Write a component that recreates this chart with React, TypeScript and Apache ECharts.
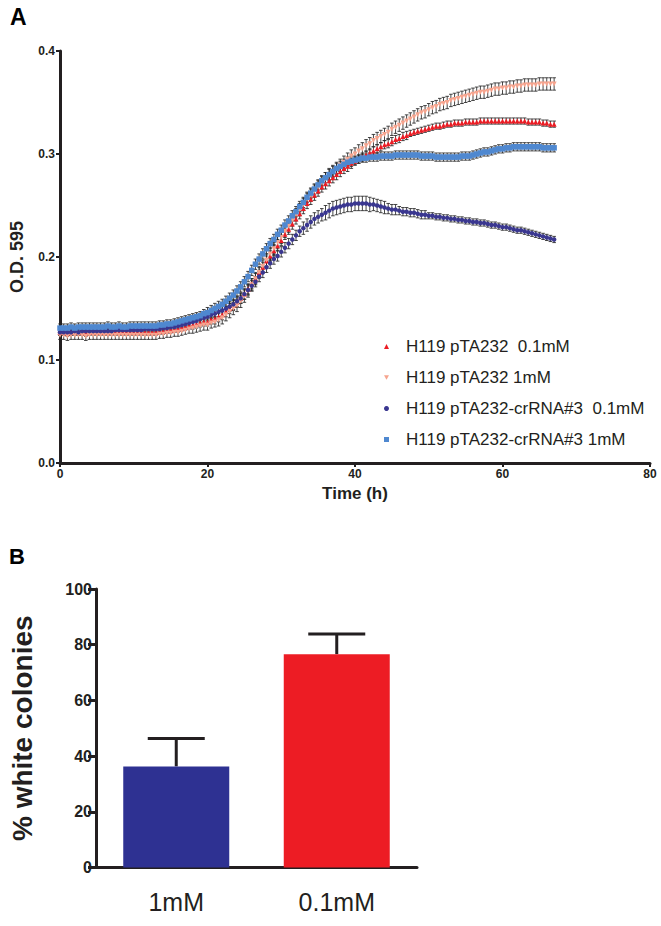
import React, { useEffect, useRef } from "react";
import * as echarts from "echarts";

// Panel A: growth curves, sampled every 0.5 h from 0 to 67 h
const TIME_H: number[] = Array.from({ length: 135 }, (_, i) => i * 0.5);

const SERIES_NAMES = [
  "H119 pTA232  0.1mM",
  "H119 pTA232 1mM",
  "H119 pTA232-crRNA#3  0.1mM",
  "H119 pTA232-crRNA#3 1mM",
];

// H119 pTA232 0.1mM
const OD_PTA_01 = [
  .127,.127,.126,.127,.127,.127,.127,.126,.127,.127,
  .127,.127,.127,.127,.127,.127,.127,.127,.127,.127,
  .127,.127,.127,.127,.127,.127,.127,.128,.128,.129,
  .129,.130,.130,.131,.132,.133,.134,.135,.136,.137,
  .137,.139,.140,.142,.144,.147,.150,.153,.156,.160,
  .164,.169,.174,.179,.185,.190,.196,.201,.206,.211,
  .216,.222,.227,.232,.237,.242,.247,.252,.256,.260,
  .264,.268,.271,.274,.277,.280,.283,.286,.288,.291,
  .293,.295,.297,.299,.301,.303,.305,.307,.309,.310,
  .312,.314,.315,.317,.318,.320,.321,.322,.323,.324,
  .325,.326,.327,.327,.328,.329,.329,.330,.330,.330,
  .331,.331,.331,.331,.332,.332,.332,.332,.332,.332,
  .332,.332,.332,.332,.332,.332,.332,.331,.331,.331,
  .331,.330,.330,.329,.329,
];
// H119 pTA232 1mM
const OD_PTA_1 = [
  .124,.124,.123,.124,.124,.124,.124,.123,.124,.124,
  .124,.124,.124,.124,.124,.124,.124,.124,.124,.124,
  .124,.124,.124,.124,.124,.124,.124,.125,.125,.126,
  .126,.127,.127,.128,.129,.130,.131,.132,.133,.134,
  .134,.136,.137,.139,.141,.144,.147,.150,.153,.157,
  .162,.167,.173,.179,.185,.191,.197,.203,.208,.214,
  .219,.225,.230,.236,.241,.246,.251,.256,.260,.264,
  .268,.272,.276,.280,.283,.286,.289,.292,.295,.298,
  .300,.303,.305,.308,.310,.313,.315,.317,.319,.321,
  .324,.326,.328,.330,.332,.334,.336,.338,.340,.341,
  .343,.345,.346,.348,.349,.350,.352,.353,.354,.355,
  .356,.357,.358,.359,.360,.360,.361,.362,.363,.363,
  .364,.364,.365,.365,.366,.366,.367,.367,.367,.367,
  .368,.368,.368,.368,.368,
];
// H119 pTA232-crRNA#3 0.1mM
const OD_CR_01 = [
  .127,.127,.127,.127,.128,.127,.128,.128,.128,.128,
  .128,.128,.128,.128,.128,.129,.129,.129,.129,.129,
  .129,.129,.129,.130,.130,.130,.130,.130,.131,.131,
  .132,.132,.133,.134,.135,.136,.137,.138,.140,.141,
  .142,.144,.145,.147,.148,.150,.152,.154,.157,.160,
  .164,.168,.172,.176,.181,.185,.190,.194,.198,.201,
  .205,.209,.213,.217,.221,.225,.228,.231,.234,.237,
  .239,.241,.243,.245,.247,.248,.249,.250,.251,.251,
  .252,.252,.252,.252,.251,.251,.250,.249,.248,.247,
  .246,.246,.245,.244,.244,.243,.243,.242,.241,.241,
  .240,.240,.239,.239,.238,.238,.237,.237,.236,.236,
  .235,.235,.234,.234,.233,.233,.232,.231,.231,.230,
  .229,.229,.228,.227,.226,.226,.225,.224,.223,.222,
  .221,.220,.219,.218,.217,
];
// H119 pTA232-crRNA#3 1mM
const OD_CR_1 = [
  .131,.131,.131,.132,.131,.132,.132,.132,.132,.132,
  .132,.132,.132,.133,.132,.132,.133,.132,.132,.133,
  .133,.133,.133,.133,.133,.133,.133,.134,.134,.135,
  .135,.136,.137,.138,.139,.140,.141,.142,.143,.145,
  .146,.148,.150,.152,.154,.157,.160,.163,.167,.171,
  .176,.181,.187,.193,.198,.203,.208,.213,.217,.222,
  .226,.231,.235,.240,.244,.249,.253,.258,.262,.266,
  .270,.274,.277,.280,.283,.286,.288,.290,.292,.293,
  .294,.295,.296,.296,.297,.297,.297,.298,.298,.298,
  .298,.299,.299,.299,.299,.299,.299,.299,.298,.298,
  .298,.298,.297,.297,.297,.297,.297,.297,.297,.298,
  .298,.298,.299,.300,.301,.302,.302,.303,.304,.305,
  .305,.306,.306,.307,.307,.307,.307,.307,.307,.307,
  .307,.306,.306,.306,.306,
];

// standard deviations (error bars)
const SD_PTA_01 = [
  .003,.003,.003,.003,.003,.003,.003,.003,.003,.003,
  .003,.003,.003,.003,.003,.003,.003,.003,.003,.003,
  .003,.003,.003,.003,.003,.003,.003,.003,.003,.003,
  .003,.003,.003,.003,.003,.003,.004,.004,.004,.004,
  .004,.004,.005,.005,.005,.005,.005,.005,.005,.005,
  .005,.005,.005,.005,.005,.005,.005,.005,.005,.005,
  .005,.005,.005,.005,.005,.005,.005,.005,.005,.005,
  .005,.005,.005,.005,.005,.005,.005,.005,.005,.005,
  .004,.004,.004,.004,.004,.004,.004,.004,.004,.004,
  .004,.004,.004,.004,.004,.003,.003,.003,.003,.003,
  .003,.003,.003,.003,.003,.003,.003,.003,.003,.003,
  .003,.003,.003,.003,.003,.003,.003,.003,.003,.003,
  .003,.003,.003,.003,.003,.003,.003,.003,.003,.003,
  .003,.003,.003,.003,.003,
];
const SD_PTA_1 = [
  .004,.004,.004,.004,.004,.004,.004,.004,.004,.004,
  .004,.004,.004,.004,.004,.004,.004,.004,.004,.004,
  .004,.004,.004,.004,.004,.004,.004,.004,.004,.004,
  .004,.004,.004,.004,.004,.004,.005,.005,.005,.005,
  .005,.005,.005,.006,.006,.006,.006,.006,.006,.006,
  .006,.006,.006,.006,.006,.006,.006,.006,.006,.006,
  .006,.006,.006,.006,.006,.006,.006,.006,.006,.006,
  .006,.006,.006,.006,.006,.006,.006,.006,.006,.006,
  .006,.006,.006,.006,.006,.006,.006,.006,.006,.006,
  .006,.006,.006,.006,.006,.006,.006,.006,.006,.006,
  .006,.006,.006,.006,.006,.006,.006,.006,.006,.006,
  .006,.006,.006,.006,.006,.006,.006,.006,.006,.006,
  .006,.006,.006,.006,.006,.006,.006,.006,.006,.006,
  .006,.006,.006,.006,.006,
];
const SD_CR_01 = [
  .003,.003,.003,.003,.003,.003,.003,.003,.003,.003,
  .003,.003,.003,.003,.003,.003,.003,.003,.003,.003,
  .003,.003,.003,.003,.003,.003,.003,.003,.003,.003,
  .003,.003,.003,.003,.003,.003,.004,.004,.004,.004,
  .004,.004,.004,.005,.005,.005,.005,.005,.005,.005,
  .005,.005,.005,.005,.005,.005,.005,.005,.005,.005,
  .005,.005,.005,.005,.005,.005,.006,.006,.006,.006,
  .006,.006,.007,.007,.007,.007,.007,.007,.007,.007,
  .007,.007,.007,.007,.007,.006,.006,.006,.006,.005,
  .005,.005,.004,.004,.004,.004,.004,.004,.004,.004,
  .003,.003,.003,.003,.003,.003,.003,.003,.003,.003,
  .003,.003,.003,.003,.003,.003,.003,.003,.003,.003,
  .003,.003,.003,.003,.003,.003,.003,.003,.003,.003,
  .003,.003,.003,.003,.003,
];
const SD_CR_1 = [
  .004,.004,.004,.004,.004,.004,.004,.004,.004,.004,
  .004,.004,.004,.004,.004,.004,.004,.004,.004,.004,
  .004,.004,.004,.004,.004,.004,.004,.004,.004,.004,
  .004,.004,.004,.004,.004,.004,.004,.004,.004,.004,
  .005,.005,.005,.005,.005,.005,.005,.005,.005,.005,
  .005,.005,.005,.005,.005,.005,.005,.005,.005,.005,
  .005,.005,.005,.005,.005,.005,.005,.005,.005,.005,
  .005,.005,.005,.005,.005,.005,.005,.005,.005,.005,
  .004,.004,.004,.004,.004,.004,.004,.004,.004,.004,
  .004,.004,.004,.004,.004,.004,.004,.004,.004,.004,
  .004,.004,.004,.004,.004,.004,.004,.004,.004,.004,
  .004,.004,.004,.004,.004,.004,.004,.004,.004,.004,
  .004,.004,.004,.004,.004,.004,.004,.004,.004,.004,
  .004,.004,.004,.004,.004,
];

const X_TICKS_A = [0, 20, 40, 60, 80];
const Y_TICKS_A = [0, 0.1, 0.2, 0.3, 0.4];

// Panel B: % white colonies
const CONC = ["1mM", "0.1mM"];
const WHITE_PCT = [36.3, 76.6];
const WHITE_ERR = [10.0, 7.2];
const Y_TICKS_B = [0, 20, 40, 60, 80, 100];

const INK = "#231f20";
const SANS = "'Liberation Sans', Arial, Helvetica, sans-serif";

export default function App() {
  const ref = useRef<HTMLDivElement>(null);

  useEffect(() => {
    document.body.style.margin = "0";
    const chart = echarts.init(ref.current!, undefined, { renderer: "svg" });

    const odSets = [OD_PTA_01, OD_PTA_1, OD_CR_01, OD_CR_1];
    const sdSets = [SD_PTA_01, SD_PTA_1, SD_CR_01, SD_CR_1];
    const colors = ["#ec1c24", "#f6a48e", "#3a3790", "#4f88d0"];
    const symbols = ["triangle", "path://M0,0L10,0L5,9Z", "circle", "rect"];
    const sizes = [5, 5, 4.5, 5.5];

    const errRender = (params: any, api: any) => {
      const x = api.value(0);
      const y = api.value(1);
      const e = api.value(2);
      const hi = api.coord([x, y + e]);
      const lo = api.coord([x, y - e]);
      const w = 1.8;
      const st = { stroke: "#262626", lineWidth: 0.85 };
      return {
        type: "group",
        children: [
          { type: "line", shape: { x1: hi[0], y1: hi[1], x2: lo[0], y2: lo[1] }, style: st },
          { type: "line", shape: { x1: hi[0] - w, y1: hi[1], x2: hi[0] + w, y2: hi[1] }, style: st },
          { type: "line", shape: { x1: lo[0] - w, y1: lo[1], x2: lo[0] + w, y2: lo[1] }, style: st },
        ],
      };
    };

    const errSeries = odSets.map((od, k) => ({
      type: "custom",
      name: "err" + k,
      xAxisIndex: 0,
      yAxisIndex: 0,
      renderItem: errRender,
      encode: { x: 0, y: 1 },
      data: TIME_H.map((t, i) => [t, od[i], sdSets[k][i]]),
      z: 2,
      silent: true,
    }));

    const markSeries = odSets.map((od, k) => ({
      type: "scatter",
      name: SERIES_NAMES[k],
      xAxisIndex: 0,
      yAxisIndex: 0,
      symbol: symbols[k],
      symbolSize: sizes[k],
      itemStyle: { color: colors[k], opacity: 1 },
      data: TIME_H.map((t, i) => [t, od[i]]),
      z: 3 + k,
      silent: true,
    }));

    const barErrRender = (params: any, api: any) => {
      const c = api.value(0);
      const v = api.value(1);
      const e = api.value(2);
      const base = api.coord([c, v]);
      const top = api.coord([c, v + e]);
      const w = 28.5;
      const st = { stroke: INK, lineWidth: 3 };
      return {
        type: "group",
        children: [
          { type: "line", shape: { x1: base[0], y1: base[1], x2: top[0], y2: top[1] }, style: st },
          { type: "line", shape: { x1: top[0] - w, y1: top[1], x2: top[0] + w, y2: top[1] }, style: st },
        ],
      };
    };

    const option: any = {
      animation: false,
      backgroundColor: "#ffffff",
      textStyle: { fontFamily: SANS },
      graphic: [
        { type: "text", left: 10, top: 5, style: { text: "A", font: `bold 23px ${SANS}`, fill: "#000" } },
        { type: "text", left: 9, top: 545, style: { text: "B", font: `bold 22px ${SANS}`, fill: "#000" } },
      ],
      legend: {
        data: SERIES_NAMES,
        orient: "vertical",
        left: 379,
        top: 333,
        itemWidth: 5,
        itemHeight: 5,
        itemGap: 14,
        selectedMode: false,
        textStyle: { fontSize: 17, color: INK, fontFamily: SANS, padding: [0, 0, 0, 12] },
      },
      grid: [
        { left: 55, top: 51, width: 595, height: 412 },
        { left: 86, top: 589, width: 331, height: 278.5 },
      ],
      xAxis: [
        {
          gridIndex: 0,
          type: "value",
          min: X_TICKS_A[0],
          max: X_TICKS_A[X_TICKS_A.length - 1],
          interval: 20,
          name: "Time (h)",
          nameLocation: "middle",
          nameGap: 22,
          nameTextStyle: { fontSize: 17, fontWeight: "bold", color: INK, fontFamily: SANS },
          axisLine: { onZero: false, lineStyle: { color: INK, width: 3 } },
          axisTick: { length: 4, lineStyle: { color: INK, width: 2 } },
          axisLabel: { fontSize: 12, fontWeight: "bold", color: INK, margin: 5, fontFamily: SANS },
          splitLine: { show: false },
        },
        {
          gridIndex: 1,
          type: "category",
          data: CONC,
          axisLine: { lineStyle: { color: INK, width: 3 } },
          axisTick: { alignWithLabel: true, length: 9, lineStyle: { color: INK, width: 3 } },
          axisLabel: { fontSize: 25, color: INK, margin: 22, fontFamily: SANS },
          splitLine: { show: false },
        },
      ],
      yAxis: [
        {
          gridIndex: 0,
          type: "value",
          min: Y_TICKS_A[0],
          max: Y_TICKS_A[Y_TICKS_A.length - 1],
          interval: 0.1,
          name: "O.D. 595",
          nameLocation: "middle",
          nameGap: 34,
          nameTextStyle: { fontSize: 18, fontWeight: "bold", color: INK, fontFamily: SANS },
          axisLine: { show: true, onZero: false, lineStyle: { color: INK, width: 3 } },
          axisTick: { show: true, length: 4, lineStyle: { color: INK, width: 2 } },
          axisLabel: {
            fontSize: 12,
            fontWeight: "bold",
            color: INK,
            margin: 5,
            fontFamily: SANS,
            formatter: (v: number) => v.toFixed(1),
          },
          splitLine: { show: false },
        },
        {
          gridIndex: 1,
          type: "value",
          min: Y_TICKS_B[0],
          max: Y_TICKS_B[Y_TICKS_B.length - 1],
          interval: 20,
          name: "% white colonies",
          nameLocation: "middle",
          nameGap: 60,
          nameTextStyle: { fontSize: 28, fontWeight: "bold", color: INK, fontFamily: SANS },
          axisLine: { show: true, lineStyle: { color: INK, width: 3 } },
          axisTick: { show: true, length: 8, lineStyle: { color: INK, width: 3 } },
          axisLabel: { fontSize: 16, fontWeight: "bold", color: INK, margin: 4, fontFamily: SANS },
          splitLine: { show: false },
        },
      ],
      series: [
        ...errSeries,
        ...markSeries,
        {
          type: "bar",
          name: "white",
          xAxisIndex: 1,
          yAxisIndex: 1,
          barWidth: 106,
          data: WHITE_PCT.map((v, i) => ({
            value: v,
            itemStyle: { color: i === 0 ? "#2e3192" : "#ed1c24" },
          })),
          z: 2,
          silent: true,
        },
        {
          type: "custom",
          name: "whiteErr",
          xAxisIndex: 1,
          yAxisIndex: 1,
          renderItem: barErrRender,
          encode: { x: 0, y: 1 },
          data: WHITE_PCT.map((v, i) => [i, v, WHITE_ERR[i]]),
          z: 1,
          silent: true,
        },
      ],
    };

    chart.setOption(option);
    return () => chart.dispose();
  }, []);

  return <div ref={ref} style={{ width: 661, height: 926 }} />;
}
